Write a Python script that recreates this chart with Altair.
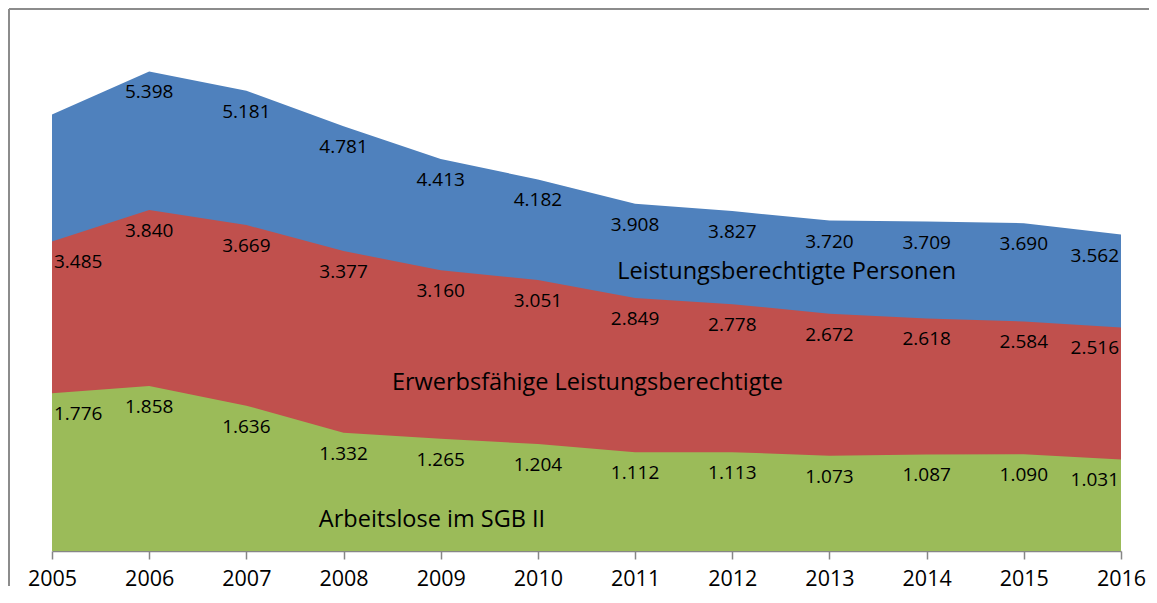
import altair as alt
import pandas as pd

years = list(range(2005, 2017))
personen = [4915, 5398, 5181, 4781, 4413, 4182, 3908, 3827, 3720, 3709, 3690, 3562]
erwerbsf = [3485, 3840, 3669, 3377, 3160, 3051, 2849, 2778, 2672, 2618, 2584, 2516]
arbeitslos = [1776, 1858, 1636, 1332, 1265, 1204, 1112, 1113, 1073, 1087, 1090, 1031]
# 2005 value of "Leistungsberechtigte Personen" has no label in the original
show_label_personen = [False] + [True] * 11

series_names = ["Leistungsberechtigte Personen", "Erwerbsfähige Leistungsberechtigte", "Arbeitslose im SGB II"]
series_colors = ["#4F81BD", "#C0504D", "#9BBB59"]
name_x = [2012.56, 2010.51, 2008.91]
name_y = [3141, 1891, 349]

FONT = "Open Sans"

rows = []
for i, y in enumerate(years):
    rows.append({"year": y, "series": series_names[0], "v": personen[i], "show": show_label_personen[i]})
    rows.append({"year": y, "series": series_names[1], "v": erwerbsf[i], "show": True})
    rows.append({"year": y, "series": series_names[2], "v": arbeitslos[i], "show": True})
df = pd.DataFrame(rows)
df["label"] = df["v"].map(lambda v: f"{v:,}".replace(",", "."))

names_df = pd.DataFrame({"name": series_names, "x": name_x, "y": name_y})

xscale = alt.Scale(domain=[2005, 2016], nice=False, zero=False)
yscale = alt.Scale(domain=[0, 6000], nice=False)

base = alt.Chart(df)

areas = []
for name, col in zip(series_names, series_colors):
    areas.append(
        base.transform_filter(alt.datum.series == name)
        .mark_area(color=col, opacity=1, interpolate="linear")
        .encode(
            x=alt.X("year:Q", scale=xscale,
                    axis=alt.Axis(values=years, format="d", title=None, grid=False,
                                  labelFontSize=21.5, labelFont=FONT, labelColor="#000000",
                                  tickColor="#868686", domainColor="#868686", tickSize=8,
                                  tickWidth=1.5, domainWidth=1.5,
                                  labelPadding=9, labelFlush=False, labelOverlap=False)),
            y=alt.Y("v:Q", scale=yscale, stack=None, axis=None),
        )
    )

labels_src = base.transform_filter(alt.datum.show == True)
common_text = dict(fontSize=19, font=FONT, color="#000000", baseline="middle", dy=21)
enc = dict(x=alt.X("year:Q", scale=xscale), y=alt.Y("v:Q", scale=yscale), text="label:N")

lab_mid = labels_src.transform_filter((alt.datum.year > 2005) & (alt.datum.year < 2016)).mark_text(
    align="center", **common_text).encode(**enc)
lab_first = labels_src.transform_filter(alt.datum.year == 2005).mark_text(
    align="left", dx=2, **common_text).encode(**enc)
lab_last = labels_src.transform_filter(alt.datum.year == 2016).mark_text(
    align="right", dx=-2, **common_text).encode(**enc)

names = alt.Chart(names_df).mark_text(
    fontSize=23.5, font=FONT, color="#000000", align="center", baseline="middle"
).encode(x=alt.X("x:Q", scale=xscale), y=alt.Y("y:Q", scale=yscale), text="name:N")

one = pd.DataFrame({"a": [0]})
border_left = alt.Chart(one).mark_rule(color="#8c8c8c", strokeWidth=2).encode(
    x=alt.value(-43), y=alt.value(-9), y2=alt.value(800))
border_top = alt.Chart(one).mark_rule(color="#8c8c8c", strokeWidth=2).encode(
    x=alt.value(-43), x2=alt.value(2000), y=alt.value(-9))

chart = alt.layer(border_left, border_top, *areas, lab_mid, lab_first, lab_last, names).properties(
    width=1069, height=533,
    padding={"left": 44, "top": 10, "right": 28, "bottom": 35},
    autosize=alt.AutoSizeParams(type="none"),
    background="#ffffff",
).configure_view(strokeWidth=0)

chart.save("out.html", embed_options={"renderer": "svg", "actions": False})
